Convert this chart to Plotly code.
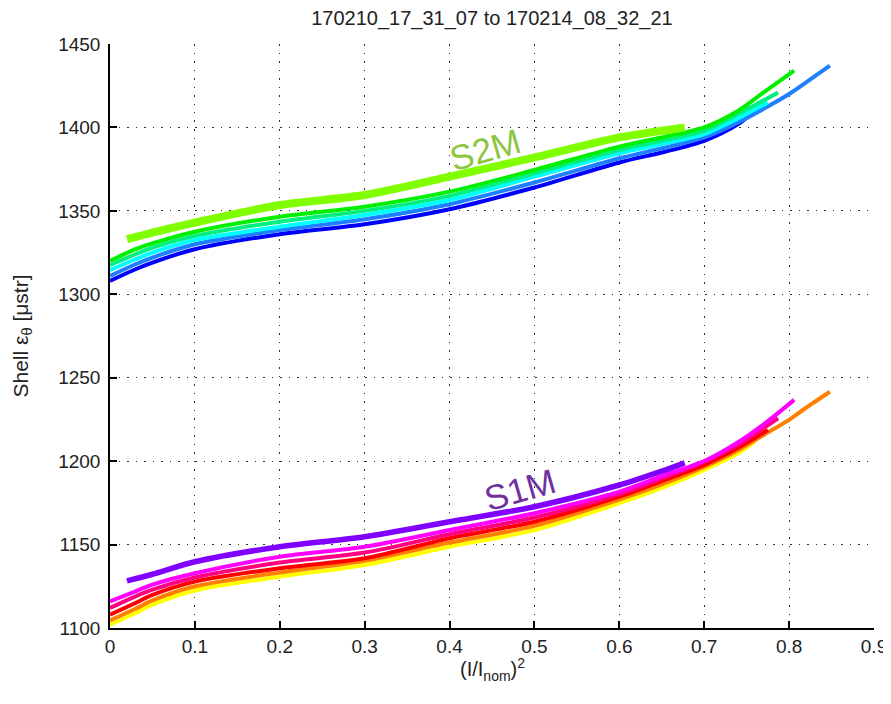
import plotly.graph_objects as go

# ---- S2M group (upper) ----
s2m_blue_x = [0, 0.03, 0.05, 0.1, 0.2, 0.3, 0.4, 0.5, 0.6, 0.65, 0.7, 0.74, 0.76]
s2m_blue_y = [1308, 1315, 1319, 1327, 1336, 1342, 1351, 1364, 1379, 1385, 1392, 1402, 1410]

s2m_azure_x = [0, 0.03, 0.05, 0.1, 0.2, 0.3, 0.4, 0.5, 0.6, 0.65, 0.7, 0.74, 0.78, 0.8, 0.82, 0.848]
s2m_azure_y = [1311, 1318, 1322, 1330, 1338.5, 1345, 1354, 1367, 1381.5, 1387.5, 1394, 1403, 1414, 1420, 1427, 1437]

s2m_cyan_x = [0, 0.03, 0.05, 0.1, 0.2, 0.3, 0.4, 0.5, 0.6, 0.65, 0.7, 0.74, 0.775]
s2m_cyan_y = [1314.5, 1321, 1325, 1332.5, 1340.5, 1347.5, 1356.5, 1370.5, 1384.5, 1390, 1396, 1405.5, 1415]

s2m_spring_x = [0, 0.03, 0.05, 0.1, 0.2, 0.3, 0.4, 0.5, 0.6, 0.65, 0.7, 0.74, 0.787]
s2m_spring_y = [1317.5, 1324, 1328, 1335, 1343.5, 1350, 1359, 1372.5, 1386.5, 1392, 1398, 1408, 1421]

s2m_green_x = [0, 0.03, 0.05, 0.1, 0.2, 0.3, 0.4, 0.5, 0.6, 0.65, 0.7, 0.74, 0.77, 0.806]
s2m_green_y = [1320, 1327, 1330.5, 1337.5, 1346.5, 1352.5, 1361.5, 1374.5, 1388.5, 1394, 1400, 1410, 1421, 1434]

s2m_lime_x = [0.02, 0.05, 0.1, 0.2, 0.3, 0.4, 0.5, 0.6, 0.65, 0.677]
s2m_lime_y = [1333, 1337, 1343, 1353.5, 1359.5, 1370.5, 1382, 1394, 1398, 1400]

# ---- S1M group (lower) ----
s1m_yellow_x = [0, 0.03, 0.05, 0.1, 0.2, 0.3, 0.4, 0.5, 0.6, 0.65, 0.7, 0.74, 0.76]
s1m_yellow_y = [1102, 1109, 1114, 1122.5, 1130.8, 1137.8, 1148.7, 1158.7, 1174.8, 1184, 1194.7, 1204.7, 1212]

s1m_orange_x = [0, 0.03, 0.05, 0.1, 0.2, 0.3, 0.4, 0.5, 0.6, 0.65, 0.7, 0.74, 0.77, 0.8, 0.82, 0.848]
s1m_orange_y = [1104.5, 1111.5, 1116.5, 1125, 1133.3, 1140.3, 1151.2, 1161.2, 1177, 1186, 1196.5, 1206.5, 1215.7, 1224.7, 1232, 1241.6]

s1m_red_x = [0, 0.03, 0.05, 0.1, 0.2, 0.3, 0.4, 0.5, 0.6, 0.65, 0.7, 0.74, 0.775]
s1m_red_y = [1108, 1115, 1119.8, 1127.8, 1135.8, 1141.8, 1153.8, 1163.7, 1178.7, 1188, 1197.7, 1208, 1218.7]

s1m_rose_x = [0, 0.03, 0.05, 0.1, 0.2, 0.3, 0.4, 0.5, 0.6, 0.65, 0.7, 0.74, 0.787]
s1m_rose_y = [1112, 1119, 1123, 1130.3, 1139.2, 1145.2, 1156.2, 1166.2, 1180.2, 1189.5, 1199.7, 1210, 1225.7]

s1m_magenta_x = [0, 0.03, 0.05, 0.1, 0.2, 0.3, 0.4, 0.5, 0.6, 0.65, 0.7, 0.738, 0.77, 0.806]
s1m_magenta_y = [1116, 1122, 1126, 1132.8, 1142.7, 1148.7, 1158.7, 1168.8, 1181.7, 1191, 1200, 1210.7, 1222, 1236.7]

s1m_purple_x = [0.02, 0.05, 0.1, 0.2, 0.3, 0.4, 0.5, 0.6, 0.65, 0.677]
s1m_purple_y = [1128.2, 1132.2, 1139.7, 1148.7, 1154.7, 1163.7, 1172.7, 1185.7, 1194, 1199]

x_ticks = [0, 0.1, 0.2, 0.3, 0.4, 0.5, 0.6, 0.7, 0.8, 0.9]
x_tick_labels = ["0", "0.1", "0.2", "0.3", "0.4", "0.5", "0.6", "0.7", "0.8", "0.9"]
y_ticks = [1100, 1150, 1200, 1250, 1300, 1350, 1400, 1450]
y_tick_labels = ["1100", "1150", "1200", "1250", "1300", "1350", "1400", "1450"]

series = [
    (s2m_blue_x, s2m_blue_y, "#0000FF", 4),
    (s2m_azure_x, s2m_azure_y, "#1E7FFF", 4),
    (s2m_cyan_x, s2m_cyan_y, "#00FFFF", 4),
    (s2m_spring_x, s2m_spring_y, "#00F080", 4),
    (s2m_green_x, s2m_green_y, "#00F000", 4),
    (s2m_lime_x, s2m_lime_y, "#80FF00", 8),
    (s1m_yellow_x, s1m_yellow_y, "#FFFF00", 4),
    (s1m_orange_x, s1m_orange_y, "#FF8000", 4),
    (s1m_red_x, s1m_red_y, "#FF0000", 4),
    (s1m_rose_x, s1m_rose_y, "#FF0080", 4),
    (s1m_magenta_x, s1m_magenta_y, "#FF00FF", 4),
    (s1m_purple_x, s1m_purple_y, "#8000FF", 5.5),
]

fig = go.Figure()
for xs, ys, col, w in series:
    fig.add_trace(go.Scatter(x=xs, y=ys, mode="lines",
                             line=dict(color=col, width=w, shape="spline", smoothing=0.8),
                             showlegend=False, hoverinfo="skip"))

font_family = "Liberation Sans, Arial, sans-serif"
grid = dict(showgrid=True, gridcolor="#303030", gridwidth=1, griddash="1.5px,7px")

# The page places the figure at an 8px body margin; sizes compensate for that.
fig.update_layout(
    width=883, height=696,
    margin=dict(l=102, r=17, t=36, b=76),
    paper_bgcolor="white", plot_bgcolor="white",
    font=dict(family=font_family, size=19, color="#222222"),
    title=dict(text="170210_17_31_07 to 170214_08_32_21", x=(484 / 883), xanchor="center",
               y=1 - 10 / 696, yanchor="middle", yref="container",
               font=dict(size=20, color="#222222")),
    xaxis=dict(range=[0, 0.9], tickvals=x_ticks, ticktext=x_tick_labels,
               showline=True, linecolor="black", linewidth=1.5,
               ticks="inside", ticklen=7, tickcolor="black", tickwidth=1.5,
               zeroline=False, automargin=False,
               **grid),
    yaxis=dict(range=[1100, 1450], tickvals=y_ticks, ticktext=y_tick_labels,
               showline=True, linecolor="black", linewidth=1.5,
               ticks="inside", ticklen=7, tickcolor="black", tickwidth=1.5,
               zeroline=False, automargin=False, ticklabelstandoff=4,
               title=dict(text="Shell ε<sub>θ</sub> [μstr]", standoff=24,
                          font=dict(size=21)),
               **grid),
    annotations=[
        dict(x=0.5, y=-0.043, xref="paper", yref="paper", xanchor="center", yanchor="top",
             text="(I/I<sub>nom</sub>)<sup>2</sup>", showarrow=False,
             font=dict(size=20, color="#222222", family=font_family)),
        dict(x=0.442, y=1387, xref="x", yref="y", text="S2M", showarrow=False,
             textangle=-16, font=dict(size=35, color="#8CC63F", family=font_family)),
        dict(x=0.483, y=1183, xref="x", yref="y", text="S1M", showarrow=False,
             textangle=-16, font=dict(size=35, color="#7030A0", family=font_family)),
    ],
)

fig.write_html("out.html")
